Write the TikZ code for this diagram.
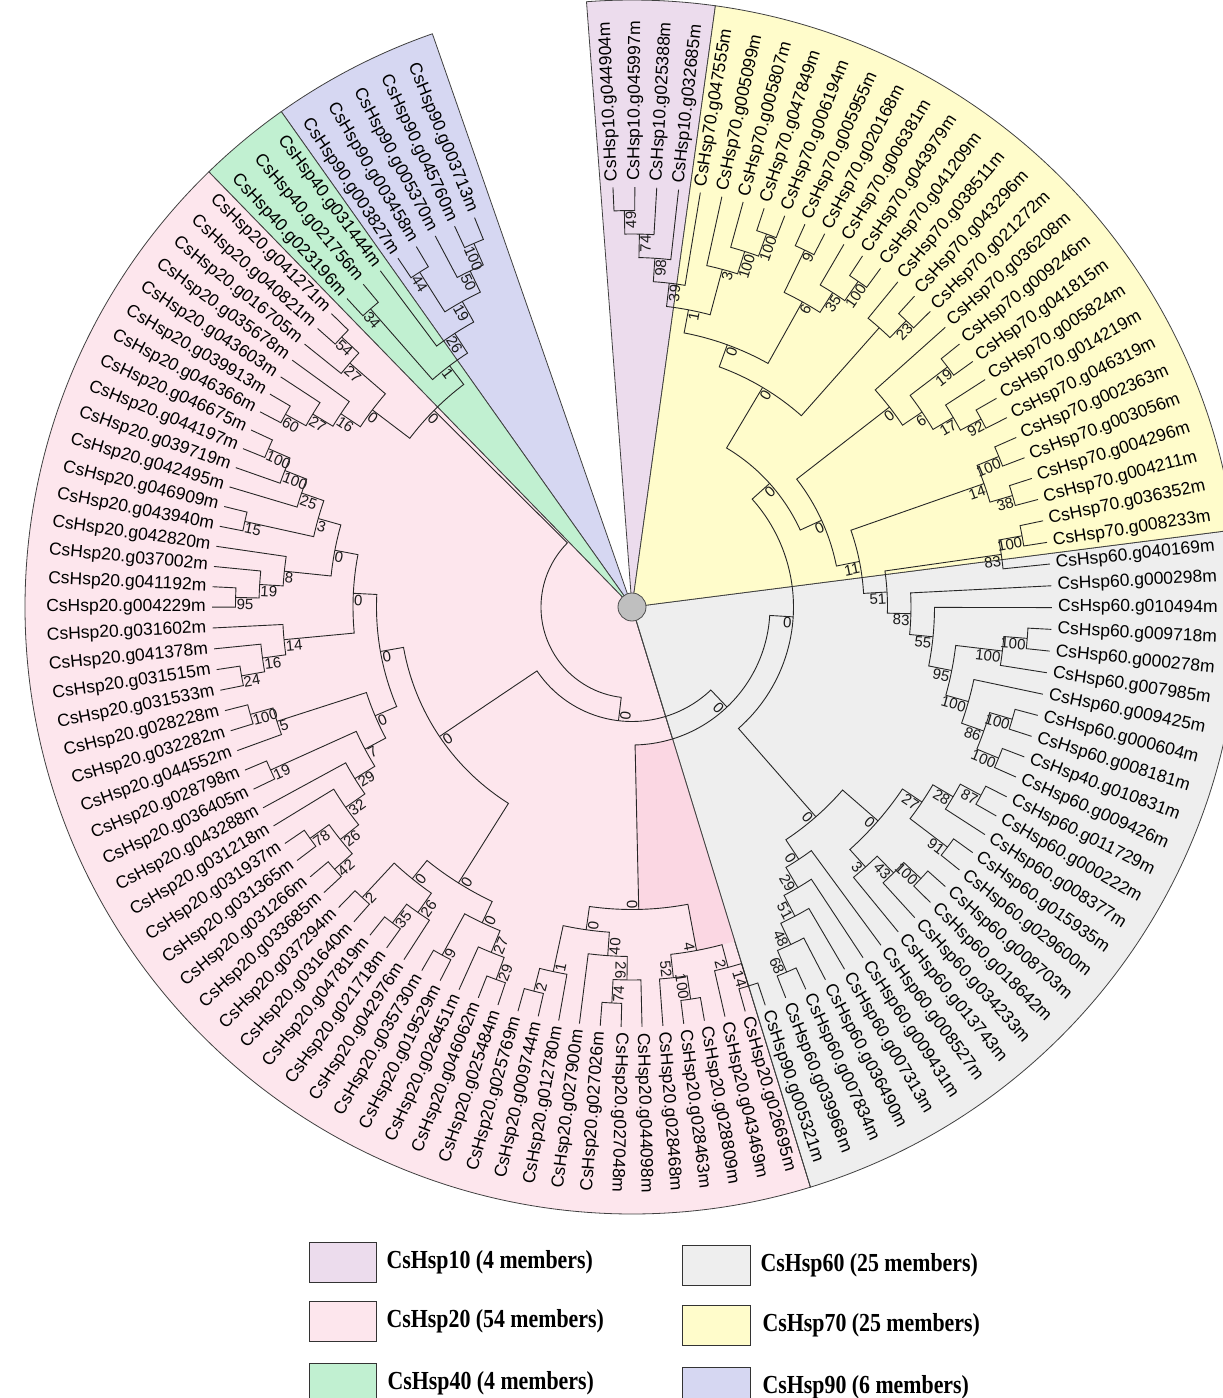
\documentclass[tikz,border=0pt]{standalone}
\usepackage{fontspec}
\usetikzlibrary{positioning}
\newfontfamily\treefont{Liberation Sans}
\newfontfamily\legendfont{Liberation Serif}
\definecolor{hsp10}{RGB}{236,220,237}
\definecolor{hsp20}{RGB}{253,230,237}
\definecolor{hsp20deep}{RGB}{251,215,227}
\definecolor{hsp40}{RGB}{193,240,209}
\definecolor{hsp60}{RGB}{238,238,238}
\definecolor{hsp70}{RGB}{255,252,203}
\definecolor{hsp90}{RGB}{214,215,242}
\tikzset{
  branch/.style={draw=black!85, line width=0.9pt},
  sector/.style={draw=black!75, line width=0.8pt},
  leaflabel/.style={font=\treefont\fontsize{17.5}{19}\selectfont, inner sep=0pt},
  boot/.style={font=\treefont\fontsize{15}{16}\selectfont, inner sep=1pt, text=black!90},
  legbox/.style={draw=black!80, line width=1pt, minimum width=67pt, minimum height=40pt, inner sep=0pt},
  legtext/.style={font=\legendfont\bfseries\fontsize{26}{28}\selectfont, inner sep=0pt}
}
\newcommand\hspleaf[2]{%
  \pgfmathsetmacro\lfa{leafang(#1)}%
  \expandafter\xdef\csname ix-L#1\endcsname{#1}%
  \expandafter\xdef\csname ht-L#1\endcsname{0}%
  \coordinate (L#1) at (\lfa:420pt);
  \pgfmathsetmacro\lfc{cos(\lfa)}%
  \ifdim\lfc pt<-0.05pt
    \pgfmathsetmacro\lfr{\lfa+180}%
    \node[leaflabel, rotate=\lfr, anchor=east] (T#1) at (\lfa:426pt) {#2};
  \else
    \node[leaflabel, rotate=\lfa, anchor=west] (T#1) at (\lfa:426pt) {#2};
  \fi}
\newcommand\hspboot[4]{%
  \pgfmathsetmacro\bcos{cos(#2)}%
  \ifdim\bcos pt<-0.05pt
    \pgfmathsetmacro\brot{#2+180}%
    \node[boot, rotate=\brot, anchor=north west] (B-#1) at (#2:#3pt) {#4};
  \else
    \node[boot, rotate=#2, anchor=north east] (B-#1) at (#2:#3pt) {#4};
  \fi}
\newcommand\hspclade[4]{%
  \edef\cia{\csname ix-#2\endcsname}\edef\cib{\csname ix-#3\endcsname}%
  \edef\cha{\csname ht-#2\endcsname}\edef\chb{\csname ht-#3\endcsname}%
  \pgfmathsetmacro\cim{(\cia+\cib)/2}%
  \pgfmathsetmacro\chm{max(\cha,\chb)+1}%
  \expandafter\xdef\csname ix-#1\endcsname{\cim}%
  \expandafter\xdef\csname ht-#1\endcsname{\chm}%
  \pgfmathsetmacro\caa{leafang(\cia)}\pgfmathsetmacro\cab{leafang(\cib)}%
  \pgfmathsetmacro\cam{leafang(\cim)}\pgfmathsetmacro\crn{noderad(\chm)}%
  \coordinate (#1) at (\cam:\crn pt);
  \draw[branch] (#2) -- (\caa:\crn pt) arc[start angle=\caa, end angle=\cab, radius=\crn pt] -- (#3);
  \hspboot{#1}{\cam}{\crn}{#4}}
\begin{document}
\begin{tikzpicture}[declare function={
    leafang(\x)=(\x<29.0001)*(95.591-2.991*\x)+(\x>29.0001)*(\x<56.0001)*(95.154-2.976*\x)
      +(\x>56.0001)*(\x<94.0001)*(88.38-2.855*\x)+(\x>94.0001)*(\x<110.0001)*(80.286-2.769*\x)
      +(\x>110.0001)*(101.3-2.96*\x);
    noderad(\h)=420-23.5*\h;}]
\useasboundingbox (-632pt,-791pt) rectangle (591pt,607pt);
\foreach \a/\b/\c in {82.1/94.3/hsp10, 109.2/125.3/hsp90, 125.3/134.2/hsp40,
    134.2/287.1/hsp20, -72.9/7.3/hsp60, 7.3/82.1/hsp70}
  \filldraw[sector, fill=\c] (0,0) -- (\a:607pt) arc[start angle=\a, end angle=\b, radius=607pt] -- cycle;
\fill[hsp20deep] (-88.72:138pt) -- (-88.72:302.5pt) arc[start angle=-88.72, end angle=-79.35, radius=302.5pt]
  -- (-79.35:349.5pt) arc[start angle=-79.35, end angle=-72.9, radius=349.5pt]
  -- (-72.9:138pt) arc[start angle=-72.9, end angle=-88.72, radius=138pt] -- cycle;
\draw[sector] (0,0) -- (-72.9:607pt);

\hspleaf{1}{CsHsp10.g044904m}
\hspleaf{2}{CsHsp10.g045997m}
\hspleaf{3}{CsHsp10.g025388m}
\hspleaf{4}{CsHsp10.g032685m}
\hspleaf{5}{CsHsp70.g047555m}
\hspleaf{6}{CsHsp70.g005099m}
\hspleaf{7}{CsHsp70.g005807m}
\hspleaf{8}{CsHsp70.g047849m}
\hspleaf{9}{CsHsp70.g006194m}
\hspleaf{10}{CsHsp70.g005955m}
\hspleaf{11}{CsHsp70.g020168m}
\hspleaf{12}{CsHsp70.g006381m}
\hspleaf{13}{CsHsp70.g043979m}
\hspleaf{14}{CsHsp70.g041209m}
\hspleaf{15}{CsHsp70.g038511m}
\hspleaf{16}{CsHsp70.g043296m}
\hspleaf{17}{CsHsp70.g021272m}
\hspleaf{18}{CsHsp70.g036208m}
\hspleaf{19}{CsHsp70.g009246m}
\hspleaf{20}{CsHsp70.g041815m}
\hspleaf{21}{CsHsp70.g005824m}
\hspleaf{22}{CsHsp70.g014219m}
\hspleaf{23}{CsHsp70.g046319m}
\hspleaf{24}{CsHsp70.g002363m}
\hspleaf{25}{CsHsp70.g003056m}
\hspleaf{26}{CsHsp70.g004296m}
\hspleaf{27}{CsHsp70.g004211m}
\hspleaf{28}{CsHsp70.g036352m}
\hspleaf{29}{CsHsp70.g008233m}
\hspleaf{30}{CsHsp60.g040169m}
\hspleaf{31}{CsHsp60.g000298m}
\hspleaf{32}{CsHsp60.g010494m}
\hspleaf{33}{CsHsp60.g009718m}
\hspleaf{34}{CsHsp60.g000278m}
\hspleaf{35}{CsHsp60.g007985m}
\hspleaf{36}{CsHsp60.g009425m}
\hspleaf{37}{CsHsp60.g000604m}
\hspleaf{38}{CsHsp60.g008181m}
\hspleaf{39}{CsHsp40.g010831m}
\hspleaf{40}{CsHsp60.g009426m}
\hspleaf{41}{CsHsp60.g011729m}
\hspleaf{42}{CsHsp60.g000222m}
\hspleaf{43}{CsHsp60.g008377m}
\hspleaf{44}{CsHsp60.g015935m}
\hspleaf{45}{CsHsp60.g029600m}
\hspleaf{46}{CsHsp60.g008703m}
\hspleaf{47}{CsHsp60.g018642m}
\hspleaf{48}{CsHsp60.g034233m}
\hspleaf{49}{CsHsp60.g013743m}
\hspleaf{50}{CsHsp60.g008527m}
\hspleaf{51}{CsHsp60.g009431m}
\hspleaf{52}{CsHsp60.g007313m}
\hspleaf{53}{CsHsp60.g036490m}
\hspleaf{54}{CsHsp60.g007834m}
\hspleaf{55}{CsHsp60.g039968m}
\hspleaf{56}{CsHsp90.g005321m}
\hspleaf{57}{CsHsp20.g026695m}
\hspleaf{58}{CsHsp20.g043469m}
\hspleaf{59}{CsHsp20.g028809m}
\hspleaf{60}{CsHsp20.g028463m}
\hspleaf{61}{CsHsp20.g028468m}
\hspleaf{62}{CsHsp20.g044098m}
\hspleaf{63}{CsHsp20.g027048m}
\hspleaf{64}{CsHsp20.g027026m}
\hspleaf{65}{CsHsp20.g027900m}
\hspleaf{66}{CsHsp20.g012780m}
\hspleaf{67}{CsHsp20.g009744m}
\hspleaf{68}{CsHsp20.g025769m}
\hspleaf{69}{CsHsp20.g025484m}
\hspleaf{70}{CsHsp20.g046062m}
\hspleaf{71}{CsHsp20.g026451m}
\hspleaf{72}{CsHsp20.g019529m}
\hspleaf{73}{CsHsp20.g035730m}
\hspleaf{74}{CsHsp20.g042976m}
\hspleaf{75}{CsHsp20.g021718m}
\hspleaf{76}{CsHsp20.g047819m}
\hspleaf{77}{CsHsp20.g031640m}
\hspleaf{78}{CsHsp20.g037294m}
\hspleaf{79}{CsHsp20.g033685m}
\hspleaf{80}{CsHsp20.g031266m}
\hspleaf{81}{CsHsp20.g031365m}
\hspleaf{82}{CsHsp20.g031937m}
\hspleaf{83}{CsHsp20.g031218m}
\hspleaf{84}{CsHsp20.g043288m}
\hspleaf{85}{CsHsp20.g036405m}
\hspleaf{86}{CsHsp20.g028798m}
\hspleaf{87}{CsHsp20.g044552m}
\hspleaf{88}{CsHsp20.g032282m}
\hspleaf{89}{CsHsp20.g028228m}
\hspleaf{90}{CsHsp20.g031533m}
\hspleaf{91}{CsHsp20.g031515m}
\hspleaf{92}{CsHsp20.g041378m}
\hspleaf{93}{CsHsp20.g031602m}
\hspleaf{94}{CsHsp20.g004229m}
\hspleaf{95}{CsHsp20.g041192m}
\hspleaf{96}{CsHsp20.g037002m}
\hspleaf{97}{CsHsp20.g042820m}
\hspleaf{98}{CsHsp20.g043940m}
\hspleaf{99}{CsHsp20.g046909m}
\hspleaf{100}{CsHsp20.g042495m}
\hspleaf{101}{CsHsp20.g039719m}
\hspleaf{102}{CsHsp20.g044197m}
\hspleaf{103}{CsHsp20.g046675m}
\hspleaf{104}{CsHsp20.g046366m}
\hspleaf{105}{CsHsp20.g039913m}
\hspleaf{106}{CsHsp20.g043603m}
\hspleaf{107}{CsHsp20.g035678m}
\hspleaf{108}{CsHsp20.g016705m}
\hspleaf{109}{CsHsp20.g040821m}
\hspleaf{110}{CsHsp20.g041271m}
\hspleaf{111}{CsHsp40.g023196m}
\hspleaf{112}{CsHsp40.g021756m}
\hspleaf{113}{CsHsp40.g031444m}
\hspleaf{114}{CsHsp90.g003827m}
\hspleaf{115}{CsHsp90.g003458m}
\hspleaf{116}{CsHsp90.g005370m}
\hspleaf{117}{CsHsp90.g045760m}
\hspleaf{118}{CsHsp90.g003713m}

\hspclade{a49}{L1}{L2}{49}
\hspclade{a74}{a49}{L3}{74}
\hspclade{a98}{a74}{L4}{98}
\hspclade{a39}{a98}{L5}{39}
\hspclade{b100a}{L8}{L9}{100}
\hspclade{b100b}{L7}{b100a}{100}
\hspclade{b3}{L6}{b100b}{3}
\hspclade{a1}{a39}{b3}{1}
\hspclade{b9}{L10}{L11}{9}
\hspclade{b100c}{L13}{L14}{100}
\hspclade{b35}{L12}{b100c}{35}
\hspclade{b6}{b9}{b35}{6}
\hspclade{b0a}{a1}{b6}{0}
\hspclade{c23}{L16}{L17}{23}
\hspclade{c0b}{L15}{c23}{}
\hspclade{b0b}{b0a}{c0b}{0}
\hspclade{d19}{L19}{L20}{19}
\hspclade{d92}{L22}{L23}{92}
\hspclade{d17}{L21}{d92}{17}
\hspclade{d6}{d19}{d17}{6}
\hspclade{d0}{L18}{d6}{0}
\hspclade{d100a}{L24}{L25}{100}
\hspclade{d38}{L26}{L27}{38}
\hspclade{d14}{d100a}{d38}{14}
\hspclade{d100b}{L28}{L29}{100}
\hspclade{d83}{d100b}{L30}{83}
\hspclade{g100a}{L33}{L34}{100}
\hspclade{g100b}{g100a}{L35}{100}
\hspclade{g100c}{L37}{L38}{100}
\hspclade{g100d}{L39}{L40}{100}
\hspclade{g86}{g100c}{g100d}{86}
\hspclade{g100e}{L36}{g86}{100}
\hspclade{g95}{g100b}{g100e}{95}
\hspclade{g55}{L32}{g95}{55}
\hspclade{g83}{L31}{g55}{83}
\hspclade{g51}{d83}{g83}{51}
\hspclade{g11}{d14}{g51}{11}
\hspclade{y9}{d0}{g11}{0}
\hspclade{y10}{b0b}{y9}{0}
\hspclade{g87}{L41}{L42}{87}
\hspclade{g28}{g87}{L43}{28}
\hspclade{g91}{L44}{L45}{91}
\hspclade{g27}{g28}{g91}{27}
\hspclade{g100f}{L46}{L47}{100}
\hspclade{g43}{g100f}{L48}{43}
\hspclade{g3}{g43}{L49}{3}
\hspclade{g0a}{g27}{g3}{0}
\hspclade{g68}{L54}{L55}{68}
\hspclade{g48}{L53}{g68}{48}
\hspclade{g51b}{L52}{g48}{51}
\hspclade{g29}{L51}{g51b}{29}
\hspclade{g0b}{L50}{g29}{0}
\hspclade{g0c}{g0a}{g0b}{0}
\hspclade{cc}{y10}{g0c}{0}
\hspclade{e14}{L56}{L57}{14}
\hspclade{e2a}{e14}{L58}{2}
\hspclade{e100}{L59}{L60}{100}
\hspclade{e52}{e100}{L61}{52}
\hspclade{e4}{e2a}{e52}{4}
\hspclade{e74}{L63}{L64}{74}
\hspclade{e26}{L62}{e74}{26}
\hspclade{e40}{e26}{L65}{40}
\hspclade{e2b}{L67}{L68}{2}
\hspclade{e1}{L66}{e2b}{1}
\hspclade{e0c}{e40}{e1}{0}
\hspclade{bb1}{e4}{e0c}{0}
\hspclade{bb}{cc}{bb1}{0}
\hspclade{l29}{L69}{L70}{29}
\hspclade{l27}{l29}{L71}{27}
\hspclade{l9}{L72}{L73}{9}
\hspclade{l0a}{l27}{l9}{0}
\hspclade{l35}{L75}{L76}{35}
\hspclade{l26}{L74}{l35}{26}
\hspclade{l2}{L77}{L78}{2}
\hspclade{l0c}{l26}{l2}{0}
\hspclade{pml}{l0a}{l0c}{0}
\hspclade{c42}{L79}{L80}{42}
\hspclade{c78}{L81}{L82}{78}
\hspclade{c26}{c42}{c78}{26}
\hspclade{c32}{c26}{L83}{32}
\hspclade{c29}{c32}{L84}{29}
\hspclade{c19}{L85}{L86}{19}
\hspclade{c7}{c29}{c19}{7}
\hspclade{c100}{L88}{L89}{100}
\hspclade{c5}{L87}{c100}{5}
\hspclade{c0d}{c7}{c5}{0}
\hspclade{c24}{L90}{L91}{24}
\hspclade{c16}{c24}{L92}{16}
\hspclade{c14}{c16}{L93}{14}
\hspclade{u95}{L94}{L95}{95}
\hspclade{u19}{u95}{L96}{19}
\hspclade{u8}{u19}{L97}{8}
\hspclade{u15}{L98}{L99}{15}
\hspclade{u100a}{L102}{L103}{100}
\hspclade{u100b}{L101}{u100a}{100}
\hspclade{u25}{L100}{u100b}{25}
\hspclade{u3}{u15}{u25}{3}
\hspclade{u0a}{u8}{u3}{0}
\hspclade{u0b}{c14}{u0a}{0}
\hspclade{pmu}{c0d}{u0b}{0}
\hspclade{pm}{pml}{pmu}{0}
\hspclade{aa}{bb}{pm}{0}
\hspclade{p60}{L104}{L105}{60}
\hspclade{p27a}{p60}{L106}{27}
\hspclade{p16}{p27a}{L107}{16}
\hspclade{p54}{L109}{L110}{54}
\hspclade{p27b}{L108}{p54}{27}
\hspclade{pb}{p16}{p27b}{0}
\hspclade{h34}{L111}{L112}{34}
\hspclade{h44}{L114}{L115}{44}
\hspclade{h100}{L117}{L118}{100}
\hspclade{h50}{L116}{h100}{50}
\hspclade{h19}{h44}{h50}{19}
\hspclade{h26}{L113}{h19}{26}
\hspclade{h1}{h34}{h26}{1}
\hspclade{tt}{pb}{h1}{0}
\hspclade{root}{aa}{tt}{}

\filldraw[fill=black!25, draw=black!70, line width=0.8pt] (0,0) circle (14pt);

\node[legbox, fill=hsp10] (k10) at (-288.5pt,-655.5pt) {};
\node[legbox, fill=hsp20, below=18pt of k10] (k20) {};
\node[legbox, fill=hsp40, below=21pt of k20] (k40) {};
\node[legbox, fill=hsp60] (k60) at (84.5pt,-658pt) {};
\node[legbox, fill=hsp70, below=19pt of k60] (k70) {};
\node[legbox, fill=hsp90, below=21pt of k70] (k90) {};
\node[legtext, right=9pt of k10] (n10) {\scalebox{0.84}[1]{CsHsp10 (4 members)}};
\node[legtext, right=9pt of k20] (n20) {\scalebox{0.84}[1]{CsHsp20 (54 members)}};
\node[legtext, right=10pt of k40] (n40) {\scalebox{0.84}[1]{CsHsp40 (4 members)}};
\node[legtext, right=10pt of k60] (n60) {\scalebox{0.84}[1]{CsHsp60 (25 members)}};
\node[legtext, right=12pt of k70] (n70) {\scalebox{0.84}[1]{CsHsp70 (25 members)}};
\node[legtext, right=12pt of k90] (n90) {\scalebox{0.84}[1]{CsHsp90 (6 members)}};
\end{tikzpicture}
\end{document}
